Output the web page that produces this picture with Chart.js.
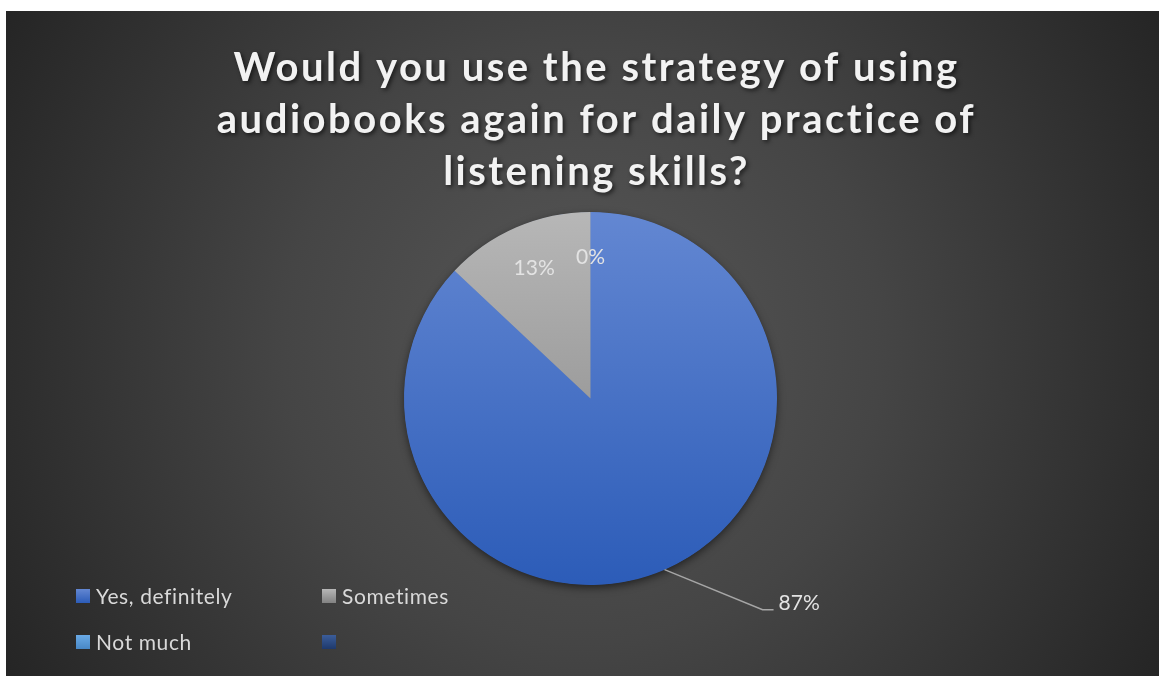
<!DOCTYPE html>
<html>
<head>
<meta charset="utf-8">
<script src="https://cdn.jsdelivr.net/npm/chart.js@4.4.1/dist/chart.umd.min.js"></script>
<style>
  html, body { margin: 0; padding: 0; background: #ffffff; }
  #wrap { position: absolute; left: 6px; top: 11px; width: 1153px; height: 665px; }
</style>
</head>
<body>
<div id="wrap"><canvas id="c"></canvas></div>
<script>
// ---- chart content ----
const titleLines = [
  'Would you use the strategy of using',
  'audiobooks again for daily practice of',
  'listening skills?'
];
const categories = ['Yes, definitely', 'Sometimes', 'Not much', ''];
const percentValues = [87, 13, 0, null];

// ---- slice colours (top / bottom of the vertical gradient) ----
const sliceTopColors    = ['#6387d2', '#b7b7b7', '#6aaae6', '#3b5d9a'];
const sliceBottomColors = ['#2c5cb8', '#828282', '#4888c6', '#1e396c'];

const FONT = 'Lato, "Open Sans", "DejaVu Sans", sans-serif';

function verticalGradient(ctx2d, top, bottom, i) {
  const g = ctx2d.createLinearGradient(0, top, 0, bottom);
  g.addColorStop(0, sliceTopColors[i]);
  g.addColorStop(1, sliceBottomColors[i]);
  return g;
}

// dark radial backdrop
const backdrop = {
  id: 'backdrop',
  beforeDraw(chart) {
    const { ctx, width, height } = chart;
    const cx = width * 0.5, cy = height * 0.5;
    const g = ctx.createRadialGradient(cx, cy, 0, cx, cy, Math.hypot(cx, cy));
    g.addColorStop(0, '#575757');
    g.addColorStop(0.45, '#454545');
    g.addColorStop(1, '#252525');
    ctx.save();
    ctx.fillStyle = g;
    ctx.fillRect(0, 0, width, height);
    ctx.restore();
  }
};

// spaced, shadowed title text
const titleStyle = {
  id: 'titleStyle',
  beforeDraw(chart) {
    const tb = chart.titleBlock;
    if (!tb || tb._styled) return;
    const orig = tb.draw.bind(tb);
    tb.draw = function (area) {
      const c = chart.ctx;
      c.save();
      c.translate(6, 0);
      c.letterSpacing = '2.5px';
      c.shadowColor = 'rgba(0,0,0,0.6)';
      c.shadowBlur = 4;
      c.shadowOffsetX = 2;
      c.shadowOffsetY = 2;
      orig(area);
      c.restore();
    };
    tb._styled = true;
  }
};

// soft shadow under the pie
const pieShadow = {
  id: 'pieShadow',
  beforeDatasetsDraw(chart) {
    const arc = chart.getDatasetMeta(0).data[0];
    if (!arc) return;
    const { x, y, outerRadius } = arc.getProps(['x', 'y', 'outerRadius'], true);
    const c = chart.ctx;
    c.save();
    c.shadowColor = 'rgba(0,0,0,0.55)';
    c.shadowBlur = 9;
    c.shadowOffsetY = 3;
    c.fillStyle = '#3f6cc2';
    c.beginPath();
    c.arc(x, y, outerRadius - 0.5, 0, Math.PI * 2);
    c.fill();
    c.restore();
  }
};

// percentage labels, one placed outside with a leader line
const labelPlacement = ['outside', 'inside', 'inside', 'none'];
const sliceLabels = {
  id: 'sliceLabels',
  afterDatasetsDraw(chart) {
    const c = chart.ctx;
    const meta = chart.getDatasetMeta(0);
    const values = chart.data.datasets[0].data;
    c.save();
    c.font = '21px ' + FONT;
    c.fillStyle = '#e3e3e3';
    c.textBaseline = 'middle';
    meta.data.forEach((arc, i) => {
      const v = values[i];
      if (v === null || labelPlacement[i] === 'none') return;
      const p = arc.getProps(['x', 'y', 'startAngle', 'endAngle', 'outerRadius'], true);
      const mid = (p.startAngle + p.endAngle) / 2;
      const text = v + '%';
      if (labelPlacement[i] === 'inside') {
        const r = p.outerRadius * 0.76;
        c.textAlign = 'center';
        c.fillText(text, p.x + Math.cos(mid) * r, p.y + Math.sin(mid) * r);
      } else {
        const ex = p.x + Math.cos(mid) * p.outerRadius;
        const ey = p.y + Math.sin(mid) * p.outerRadius;
        const bx = ex + 98, by = ey + 40;
        c.strokeStyle = '#a6a6a6';
        c.lineWidth = 1.5;
        c.beginPath();
        c.moveTo(ex, ey);
        c.lineTo(bx, by);
        c.lineTo(bx + 11, by);
        c.stroke();
        c.textAlign = 'left';
        c.fillText(text, bx + 16, by - 6);
      }
    });
    c.restore();
  }
};

// two-column legend at the lower left
const gridLegend = {
  id: 'gridLegend',
  afterDraw(chart) {
    const c = chart.ctx;
    const left = 70, colWidth = 246, firstRow = chart.chartArea.bottom + 11, rowGap = 46, box = 14;
    c.save();
    c.font = '21px ' + FONT;
    c.letterSpacing = '0.6px';
    c.textBaseline = 'middle';
    c.textAlign = 'left';
    chart.data.labels.forEach((label, i) => {
      const x = left + (i % 2) * colWidth;
      const y = firstRow + Math.floor(i / 2) * rowGap;
      c.fillStyle = verticalGradient(c, y - box / 2, y + box / 2, i);
      c.fillRect(x, y - box / 2, box, box);
      c.fillStyle = '#d9d9d9';
      c.fillText(label, x + 20, y + 1);
    });
    c.restore();
  }
};

new Chart(document.getElementById('c'), {
  type: 'pie',
  data: {
    labels: categories,
    datasets: [{
      data: percentValues,
      borderWidth: 0,
      hoverOffset: 0,
      backgroundColor: (ctx) => {
        const area = ctx.chart.chartArea;
        if (!area) return sliceTopColors[ctx.dataIndex];
        return verticalGradient(ctx.chart.ctx, area.top, area.bottom, ctx.dataIndex);
      }
    }]
  },
  options: {
    responsive: true,
    maintainAspectRatio: false,
    animation: false,
    layout: { padding: { top: 0, left: 16, right: 0, bottom: 91 } },
    plugins: {
      title: {
        display: true,
        text: titleLines,
        color: '#f2f2f2',
        font: { family: FONT, size: 40, weight: 'bold', lineHeight: 1.3 },
        padding: { top: 31, bottom: 14 }
      },
      legend: { display: false },
      tooltip: { enabled: false }
    }
  },
  plugins: [backdrop, titleStyle, pieShadow, sliceLabels, gridLegend]
});
</script>
</body>
</html>
